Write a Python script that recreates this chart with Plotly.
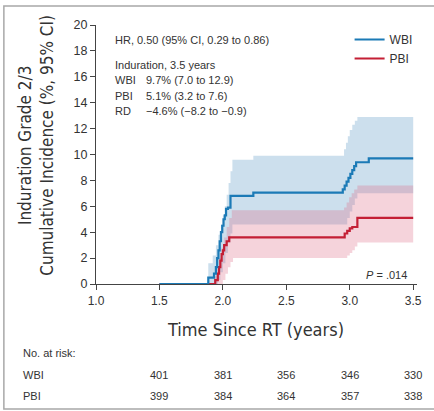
import plotly.graph_objects as go

# Cumulative incidence of grade 2/3 induration (%), step estimates with 95% CI
wbi_t = [1.5, 1.885, 1.93, 1.945, 1.955, 1.965, 1.975, 1.985, 1.995, 2.005, 2.015,
         2.025, 2.04, 2.06, 2.24, 2.945, 2.96, 2.975, 2.99, 3.005, 3.02, 3.035, 3.05,
         3.15, 3.5]
wbi_est = [0, 0.5, 0.8, 1.3, 2.0, 2.6, 3.3, 4.0, 4.5, 5.0, 5.3,
           5.8, 5.9, 6.8, 7.05, 7.3, 7.6, 7.9, 8.2, 8.5, 8.8, 9.1, 9.4,
           9.7, 9.7]

wbi_up_t = [1.5, 1.885, 1.92, 1.945, 1.965, 1.985, 2.0, 2.015, 2.03, 2.045, 2.06,
            2.075, 2.24, 2.955, 2.97, 2.985, 3.0, 3.02, 3.04, 3.06, 3.5]
wbi_up = [0, 1.6, 2.2, 3.0, 3.8, 4.6, 5.3, 6.0, 6.9, 7.8, 8.7,
          9.6, 9.9, 10.4, 10.9, 11.4, 11.9, 12.3, 12.6, 12.9, 12.9]

wbi_lo_t = [1.5, 1.96, 1.98, 2.0, 2.02, 2.04, 2.06, 2.075, 2.955, 2.98, 3.0, 3.02,
            3.04, 3.06, 3.5]
wbi_lo = [0, 0.3, 0.9, 1.6, 2.4, 3.2, 3.9, 4.6, 4.6, 5.1, 5.6, 6.1,
          6.6, 7.0, 7.0]

pbi_t = [1.5, 1.94, 1.96, 1.97, 1.98, 1.99, 2.0, 2.01, 2.03, 2.05, 2.96, 2.98,
         3.0, 3.02, 3.06, 3.5]
pbi_est = [0, 0.3, 0.8, 1.3, 1.8, 2.3, 2.6, 3.0, 3.3, 3.6, 3.9, 4.1,
           4.3, 4.4, 5.1, 5.1]

pbi_up_t = [1.5, 1.93, 1.95, 1.97, 1.99, 2.01, 2.03, 2.05, 2.07, 2.955, 2.975,
            2.995, 3.015, 3.035, 3.06, 3.5]
pbi_up = [0, 0.6, 1.2, 2.0, 2.8, 3.6, 4.4, 5.1, 5.7, 5.9, 6.3,
          6.7, 7.0, 7.3, 7.6, 7.6]

pbi_lo_t = [1.5, 2.0, 2.02, 2.04, 2.06, 2.08, 2.955, 2.98, 3.0, 3.02, 3.04, 3.06, 3.5]
pbi_lo = [0, 0.3, 0.8, 1.3, 1.7, 2.0, 2.0, 2.2, 2.4, 2.6, 2.9, 3.2, 3.2]

# Number at risk table
risk_times = [1.5, 2.0, 2.5, 3.0, 3.5]
risk_wbi = [401, 381, 356, 346, 330]
risk_pbi = [399, 384, 364, 357, 338]

x_ticks = [1.0, 1.5, 2.0, 2.5, 3.0, 3.5]
y_ticks = [0, 2, 4, 6, 8, 10, 12, 14, 16, 18, 20]

stats_labels = ["WBI", "PBI", "RD"]
stats_values = ["9.7% (7.0 to 12.9)", "5.1% (3.2 to 7.6)", "\u22124.6% (\u22128.2 to \u22120.9)"]

BLUE = "#1b7ab6"
RED = "#c41f35"
BLUE_FILL = "rgba(190,214,232,0.78)"
RED_FILL = "rgba(222,110,135,0.30)"
TXT = "#333333"
SANS = "Liberation Sans, Arial, sans-serif"
NARROW = "Liberation Sans Narrow, DejaVu Sans Condensed, Arial Narrow, sans-serif"

fig = go.Figure()

# CI bands
fig.add_trace(go.Scatter(x=wbi_lo_t, y=wbi_lo, mode="lines", line=dict(width=0, shape="hv"),
                         showlegend=False, hoverinfo="skip"))
fig.add_trace(go.Scatter(x=wbi_up_t, y=wbi_up, mode="lines", line=dict(width=0, shape="hv"),
                         fill="tonexty", fillcolor=BLUE_FILL, showlegend=False, hoverinfo="skip"))
fig.add_trace(go.Scatter(x=pbi_lo_t, y=pbi_lo, mode="lines", line=dict(width=0, shape="hv"),
                         showlegend=False, hoverinfo="skip"))
fig.add_trace(go.Scatter(x=pbi_up_t, y=pbi_up, mode="lines", line=dict(width=0, shape="hv"),
                         fill="tonexty", fillcolor=RED_FILL, showlegend=False, hoverinfo="skip"))

# Estimates (WBI drawn last so it sits on top)
fig.add_trace(go.Scatter(x=pbi_t, y=pbi_est, mode="lines", name="PBI",
                         line=dict(color=RED, width=2.2, shape="hv")))
fig.add_trace(go.Scatter(x=wbi_t, y=wbi_est, mode="lines", name="WBI",
                         line=dict(color=BLUE, width=2.2, shape="hv")))

ann = []
ann.append(dict(text="HR, 0.50 (95% CI, 0.29 to 0.86)", x=0.052, y=0.942))
ann.append(dict(text="Induration, 3.5 years", x=0.052, y=0.846))
stat_y = [0.786, 0.724, 0.668]
for lab, val, yy in zip(stats_labels, stats_values, stat_y):
    ann.append(dict(text=lab, x=0.052, y=yy))
    ann.append(dict(text=val, x=0.151, y=yy))
annotations = []
for a in ann:
    annotations.append(dict(xref="paper", yref="paper", xanchor="left", yanchor="middle",
                            showarrow=False, font=dict(family=SANS, size=11, color=TXT), **a))

annotations.append(dict(text="<i>P</i> = .014", xref="paper", yref="paper", x=0.976, y=0.033,
                        xanchor="right", yanchor="middle", showarrow=False,
                        font=dict(family=SANS, size=11, color=TXT)))

# axis titles
annotations.append(dict(text="Time Since RT (years)", xref="paper", yref="paper", x=0.498, y=-0.174,
                        xanchor="center", yanchor="middle", showarrow=False,
                        font=dict(family=NARROW, size=18, color=TXT)))
annotations.append(dict(text="Induration Grade 2/3<br>Cumulative Incidence (%, 95% CI)",
                        xref="paper", yref="paper", x=-0.186, y=0.535, textangle=-90,
                        xanchor="center", yanchor="middle", showarrow=False,
                        font=dict(family=NARROW, size=17, color=TXT)))

# number at risk
annotations.append(dict(text="No. at risk:", xref="paper", yref="paper", x=-0.2346, y=-0.266,
                        xanchor="left", yanchor="middle", showarrow=False,
                        font=dict(family=SANS, size=11, color=TXT)))
for lab, vals, yy in [("WBI", risk_wbi, -0.351), ("PBI", risk_pbi, -0.432)]:
    annotations.append(dict(text=lab, xref="paper", yref="paper", x=-0.2346, y=yy,
                            xanchor="left", yanchor="middle", showarrow=False,
                            font=dict(family=SANS, size=11, color=TXT)))
    for t, v in zip(risk_times, vals):
        annotations.append(dict(text=str(v), xref="x", yref="paper", x=t, y=yy,
                                xanchor="center", yanchor="middle", showarrow=False,
                                font=dict(family=SANS, size=11, color=TXT)))

fig.update_layout(
    width=434, height=411,
    margin=dict(l=96, r=14, t=25, b=127),
    paper_bgcolor="white", plot_bgcolor="white",
    font=dict(family=SANS, size=12, color=TXT),
    annotations=annotations,
    legend=dict(x=0.79, y=1.0, xanchor="left", yanchor="top", bgcolor="rgba(0,0,0,0)",
                font=dict(family=SANS, size=12, color=TXT), itemwidth=30,
                traceorder="reversed", tracegroupgap=0),
    shapes=[dict(type="rect", xref="paper", yref="paper", x0=-0.287, x1=1.1,
                 y0=-0.483, y1=1.073, line=dict(color="#a8a8a8", width=1.5),
                 fillcolor="rgba(0,0,0,0)", layer="below")],
    xaxis=dict(range=[1.0, 3.53], tickvals=x_ticks, ticktext=[f"{v:.1f}" for v in x_ticks],
               showgrid=False, zeroline=False, showline=True, linecolor="#444", linewidth=1.2,
               ticks="outside", ticklen=5, tickcolor="#444", tickwidth=1.2,
               tickfont=dict(family=SANS, size=12, color=TXT)),
    yaxis=dict(range=[0, 20], tickvals=y_ticks, showgrid=False, zeroline=False,
               showline=True, linecolor="#444", linewidth=1.2,
               ticks="outside", ticklen=5, tickcolor="#444", tickwidth=1.2,
               tickfont=dict(family=SANS, size=12.5, color=TXT)),
)

fig.write_html("out.html")
